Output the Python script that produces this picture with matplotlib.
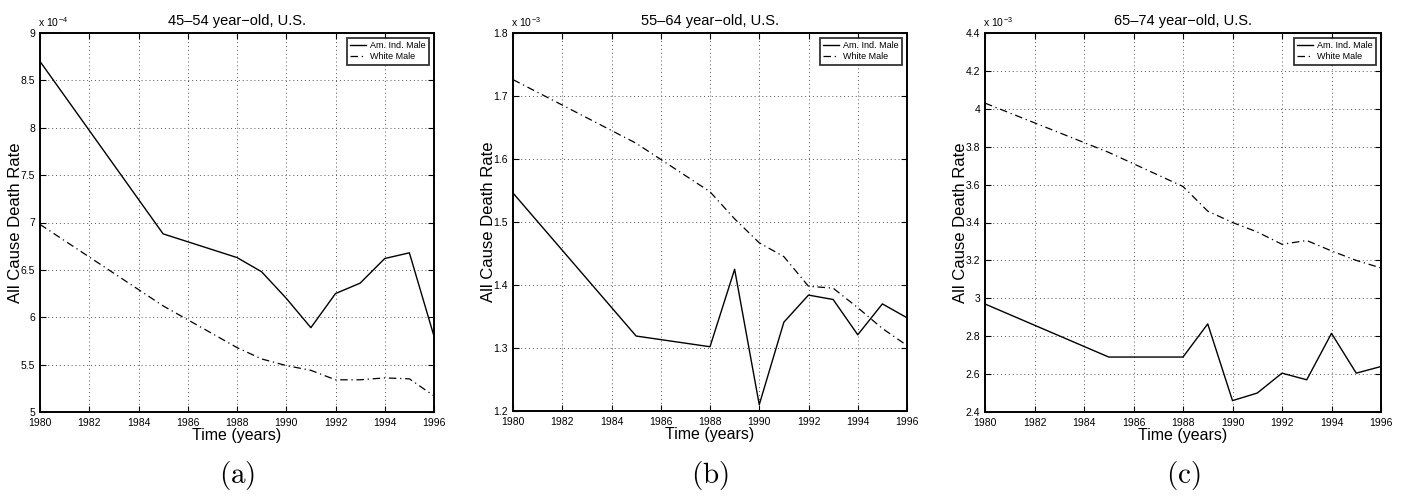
import matplotlib
matplotlib.use('Agg')
import matplotlib.pyplot as plt
from matplotlib.ticker import FuncFormatter

plt.rcParams['font.family'] = ['Liberation Sans', 'DejaVu Sans']
plt.rcParams['mathtext.fontset'] = 'cm'

years = [1980, 1985, 1988, 1989, 1990, 1991, 1992, 1993, 1994, 1995, 1996]

# all-cause death rates, male
amind_45_54 = [8.70e-4, 6.88e-4, 6.63e-4, 6.48e-4, 6.20e-4, 5.89e-4, 6.25e-4, 6.36e-4, 6.62e-4, 6.68e-4, 5.80e-4]
white_45_54 = [6.98e-4, 6.12e-4, 5.68e-4, 5.56e-4, 5.49e-4, 5.44e-4, 5.34e-4, 5.34e-4, 5.36e-4, 5.35e-4, 5.17e-4]

amind_55_64 = [1.546e-3, 1.319e-3, 1.302e-3, 1.425e-3, 1.210e-3, 1.341e-3, 1.384e-3, 1.377e-3, 1.321e-3, 1.370e-3, 1.348e-3]
white_55_64 = [1.726e-3, 1.625e-3, 1.548e-3, 1.505e-3, 1.467e-3, 1.445e-3, 1.398e-3, 1.395e-3, 1.364e-3, 1.331e-3, 1.304e-3]

amind_65_74 = [2.97e-3, 2.69e-3, 2.69e-3, 2.865e-3, 2.46e-3, 2.50e-3, 2.605e-3, 2.57e-3, 2.815e-3, 2.605e-3, 2.64e-3]
white_65_74 = [4.03e-3, 3.77e-3, 3.59e-3, 3.46e-3, 3.40e-3, 3.35e-3, 3.285e-3, 3.305e-3, 3.25e-3, 3.20e-3, 3.16e-3]

titles = ['45\u201354 year\u2212old, U.S.', '55\u201364 year\u2212old, U.S.', '65\u201374 year\u2212old, U.S.']
panel_tags = ['(a)', '(b)', '(c)']
exponents = [-4, -3, -3]
y_ticks = [
    [5.0e-4, 5.5e-4, 6.0e-4, 6.5e-4, 7.0e-4, 7.5e-4, 8.0e-4, 8.5e-4, 9.0e-4],
    [1.2e-3, 1.3e-3, 1.4e-3, 1.5e-3, 1.6e-3, 1.7e-3, 1.8e-3],
    [2.4e-3, 2.6e-3, 2.8e-3, 3.0e-3, 3.2e-3, 3.4e-3, 3.6e-3, 3.8e-3, 4.0e-3, 4.2e-3, 4.4e-3],
]
x_ticks = list(range(1980, 1997, 2))

series = [(amind_45_54, white_45_54), (amind_55_64, white_55_64), (amind_65_74, white_65_74)]

W, H = 1402, 497
fig = plt.figure(figsize=(W / 100, H / 100), dpi=100)

# axes boxes in pixels: left, right, top, bottom
boxes = [(40, 434, 33, 412), (513, 907, 33, 411), (985, 1381, 33, 412)]


def scaled_label(exp):
    def fmt(v, pos):
        return '%g' % round(v / 10 ** exp, 6)
    return FuncFormatter(fmt)


for i, (l, r, t, b) in enumerate(boxes):
    ax = fig.add_axes([l / W, 1 - b / H, (r - l) / W, (b - t) / H])
    amind, white = series[i]
    ax.plot(years, amind, color='black', lw=1.0, ls='-', label='Am. Ind. Male')
    ax.plot(years, white, color='black', lw=0.9, ls=(0, (6, 3, 1, 3)), label='White Male')

    ax.set_xlim(1980, 1996)
    ax.set_ylim(y_ticks[i][0], y_ticks[i][-1])
    ax.set_xticks(x_ticks)
    ax.set_yticks(y_ticks[i])
    ax.yaxis.set_major_formatter(scaled_label(exponents[i]))

    ax.grid(True, color='#555555', ls=(0, (1, 3)), lw=0.7)
    ax.tick_params(direction='in', length=4, width=0.8, labelsize=7.5,
                   top=True, right=True)
    ax.tick_params(axis='x', pad=4)
    ax.tick_params(axis='y', pad=3.5)
    for sp in ax.spines.values():
        sp.set_linewidth(1.4)

    ax.set_title(titles[i], fontsize=10.5, pad=6)
    ax.set_xlabel('Time (years)', fontsize=11.5, labelpad=0)
    ax.set_ylabel('All Cause Death Rate', fontsize=12)
    ax.yaxis.set_label_coords(-0.043, 0.5)
    ax.text(-0.005, 1.01, r'x 10$^{\mathregular{%d}}$' % exponents[i], transform=ax.transAxes,
            fontsize=7.5, ha='left', va='bottom')

    leg = ax.legend(loc='upper right', fontsize=6.5, frameon=True, fancybox=False,
                    borderpad=0.4, handlelength=1.7, labelspacing=0.25,
                    borderaxespad=0.5, handletextpad=0.5)
    leg.get_frame().set_edgecolor('black')
    leg.get_frame().set_linewidth(1.3)

    fig.text((l + r) / 2 / W, 1 - 476 / H, r'$\mathrm{%s}$' % panel_tags[i],
             fontsize=21, ha='center', va='center')

fig.savefig('out.png', dpi=100)
